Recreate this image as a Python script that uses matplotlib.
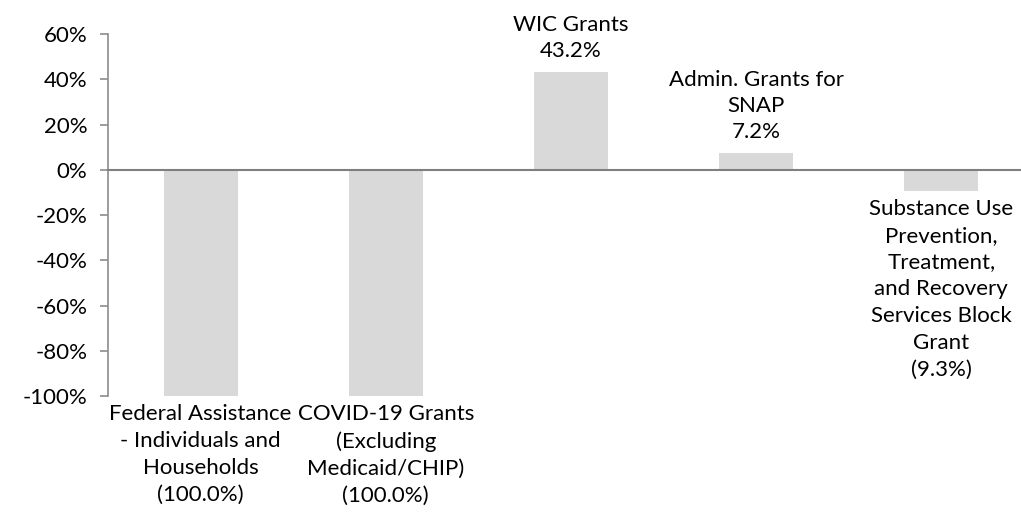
import matplotlib
matplotlib.use("Agg")
import matplotlib.pyplot as plt
from matplotlib.ticker import FuncFormatter

categories = [
    "Federal Assistance\n- Individuals and\nHouseholds",
    "COVID-19 Grants\n(Excluding\nMedicaid/CHIP)",
    "WIC Grants",
    "Admin. Grants for\nSNAP",
    "Substance Use\nPrevention,\nTreatment,\nand Recovery\nServices Block\nGrant",
]
values = [-100.0, -100.0, 43.2, 7.2, -9.3]
yticks = [-100, -80, -60, -40, -20, 0, 20, 40, 60]

plt.rcParams['font.family'] = ['Lato', 'DejaVu Sans']
FS = 16

fig = plt.figure(figsize=(10.21, 5.13), dpi=100)
ax = fig.add_axes([0.1058, 0.228, 0.8942, 0.7057])

x = list(range(len(values)))
ax.bar(x, values, width=0.4, color="#d9d9d9", zorder=2)

ax.set_xlim(-0.5, 4.43)
ax.set_ylim(-100, 60)
ax.set_yticks(yticks)
ax.yaxis.set_major_formatter(FuncFormatter(lambda v, p: f"{v:.0f}%"))
ax.tick_params(axis='y', labelsize=FS, length=6, width=1.2, color="#8c8c8c", direction='out', pad=9, labelcolor='black')
ax.set_xticks([])

for s in ['top', 'right']:
    ax.spines[s].set_visible(False)
ax.spines['bottom'].set_position(('data', 0))
ax.spines['bottom'].set_color("#7f7f7f")
ax.spines['bottom'].set_linewidth(1.5)
ax.spines['bottom'].set_zorder(3)
ax.spines['left'].set_color("#8c8c8c")
ax.spines['left'].set_linewidth(1.2)

for xi, v, name in zip(x, values, categories):
    if v >= 0:
        txt = f"{name}\n{v:.1f}%"
        ax.annotate(txt, xy=(xi, v), xytext=(0, 8), textcoords='offset points',
                    ha='center', va='bottom', fontsize=FS, linespacing=1.4,
                    annotation_clip=False)
    else:
        txt = f"{name}\n({abs(v):.1f}%)"
        ax.annotate(txt, xy=(xi, v), xytext=(0, -6), textcoords='offset points',
                    ha='center', va='top', fontsize=FS, linespacing=1.42,
                    annotation_clip=False)

fig.savefig("out.png", dpi=100)
